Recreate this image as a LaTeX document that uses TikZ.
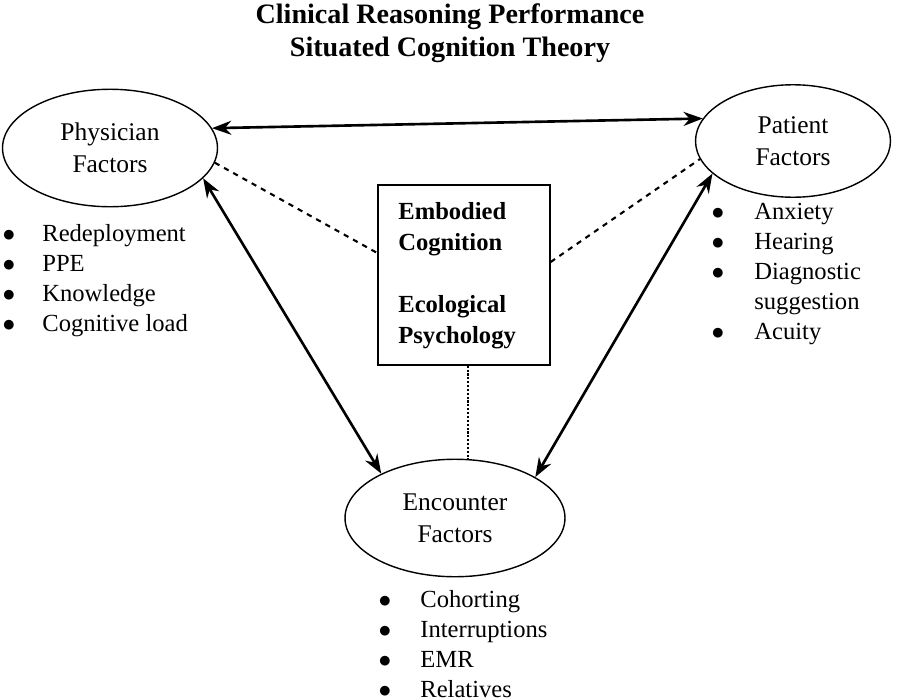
\documentclass[tikz,border=0pt]{standalone}
\usepackage{fontspec}
\setmainfont{Liberation Serif}
\usetikzlibrary{shapes.geometric,arrows.meta}
\begin{document}
\begin{tikzpicture}[x=0.02cm,y=-0.02cm,
  factor/.style = {draw, ellipse, line width=0.8pt, minimum width=4.3cm, minimum height=2.35cm, align=center, font=\fontsize{14.5}{18}\selectfont},
  item/.style = {anchor=base west, font=\fontsize{14}{17}\selectfont, inner sep=0pt},
  dot/.style = {anchor=base, font=\fontsize{14}{17}\selectfont, inner sep=0pt},
  both/.style = {{Stealth[length=11pt,width=8pt]}-{Stealth[length=11pt,width=8pt]}, line width=1.5pt}]
\useasboundingbox (0,0) rectangle (900,700);
\node[font=\fontsize{16}{19}\selectfont\bfseries, align=center] (title) at (450,33) {Clinical Reasoning Performance\\Situated Cognition Theory};
\node[factor] (phys) at (110,148) {Physician\\Factors};
\node[factor, minimum width=3.9cm, minimum height=2.25cm] (pat) at (793,141) {Patient\\Factors};
\node[factor, minimum width=4.4cm] (enc) at (455,518) {Encounter\\Factors};
\node[draw, line width=0.8pt, minimum width=3.44cm, minimum height=3.6cm] (box) at (464,275) {};
\node[anchor=north west, align=left, font=\fontsize{14}{17.5}\selectfont\bfseries, inner sep=0pt] (theory) at (398,202) {Embodied\\Cognition\\[18pt]Ecological\\Psychology};
% bullet lists
\foreach \t [count=\i] in {Redeployment,PPE,Knowledge,Cognitive load} {
  \node[dot] (pb\i) at (9,211+30*\i) {$\bullet$};
  \node[item] (pt\i) at (42,211+30*\i) {\t};
}
\foreach \t/\y in {Anxiety/219,Hearing/249,Diagnostic/279,Acuity/339} {
  \node[dot] at (718,\y) {$\bullet$};
  \node[item] at (754,\y) {\t};
}
\node[item] (sugg) at (754,309) {suggestion};
\foreach \t [count=\i] in {Cohorting,Interruptions,EMR,Relatives} {
  \node[dot] (eb\i) at (385,577+30*\i) {$\bullet$};
  \node[item] (et\i) at (420,577+30*\i) {\t};
}
% connectors
\draw[both] (phys.11) -- (pat.166);
\draw[both] (phys.-18) -- (enc.149);
\draw[both] (pat.202) -- (enc.27);
\draw[dashed, line width=1.2pt] (phys.-8) -- (box.west|-0,253);
\draw[dashed, line width=1.2pt] (box.east|-0,262) -- (pat.191);
\draw[densely dotted, line width=1.2pt] (box.south-|468,0) -- (enc.north-|468,0);
\end{tikzpicture}
\end{document}
